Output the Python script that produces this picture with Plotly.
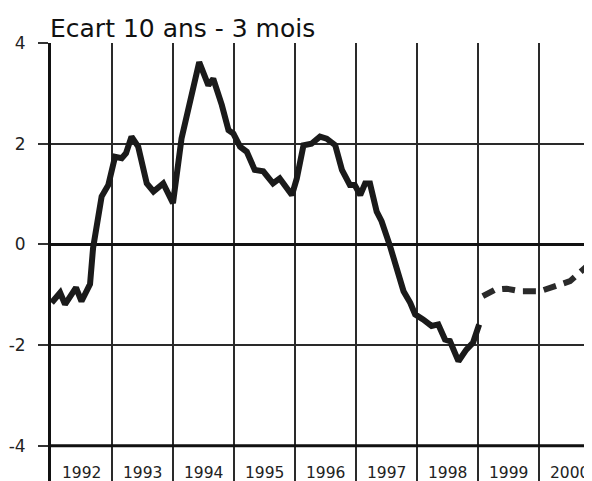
import plotly.graph_objects as go

# Ecart de taux 10 ans - 3 mois (points, en années décimales)
obs_x = [1992.01, 1992.15, 1992.23, 1992.41, 1992.50, 1992.64, 1992.69, 1992.75,
         1992.83, 1992.94, 1993.05, 1993.16, 1993.23, 1993.32, 1993.43, 1993.57,
         1993.68, 1993.84, 1994.00, 1994.14, 1994.31, 1994.43, 1994.58, 1994.66,
         1994.80, 1994.91, 1994.99, 1995.10, 1995.21, 1995.34, 1995.48, 1995.64,
         1995.75, 1995.95, 1996.03, 1996.14, 1996.27, 1996.41, 1996.52, 1996.66,
         1996.77, 1996.90, 1996.98, 1997.07, 1997.15, 1997.23, 1997.34, 1997.42,
         1997.56, 1997.67, 1997.78, 1997.89, 1997.97, 1998.10, 1998.24, 1998.35,
         1998.46, 1998.54, 1998.68, 1998.81, 1998.92, 1999.02]
obs_y = [-1.16, -0.96, -1.19, -0.86, -1.13, -0.79, -0.07, 0.46,
         0.95, 1.18, 1.74, 1.71, 1.81, 2.14, 1.94, 1.21,
         1.05, 1.21, 0.82, 2.10, 2.96, 3.62, 3.16, 3.29,
         2.77, 2.27, 2.20, 1.94, 1.84, 1.48, 1.45, 1.21,
         1.31, 0.98, 1.31, 1.97, 2.00, 2.14, 2.10, 1.97,
         1.48, 1.18, 1.18, 0.98, 1.21, 1.21, 0.65, 0.46,
         -0.04, -0.53, -0.93, -1.16, -1.39, -1.49, -1.62, -1.59,
         -1.89, -1.92, -2.32, -2.09, -1.95, -1.59]

# prévision
prev_x = [1999.08, 1999.28, 1999.47, 1999.69, 2000.02, 2000.29, 2000.51, 2000.78, 2000.92]
prev_y = [-1.03, -0.90, -0.88, -0.93, -0.93, -0.83, -0.73, -0.44, -0.32]

years = [1992, 1993, 1994, 1995, 1996, 1997, 1998, 1999, 2000]
y_ticks = [4, 2, 0, -2, -4]
y_labels = ["4", "2", "0", "-2", "-4"]

fig = go.Figure()

fig.add_trace(go.Scatter(x=obs_x, y=obs_y, mode="lines",
                         line=dict(color="#1a1a1a", width=6), showlegend=False))
fig.add_trace(go.Scatter(x=prev_x, y=prev_y, mode="lines",
                         line=dict(color="#2a2a2a", width=6, dash="13px,8px"),
                         showlegend=False))

# year labels sit in the cells under the -4 line
for yr in years:
    fig.add_annotation(x=yr + 0.5, y=-4.55, text=str(yr), showarrow=False,
                       font=dict(family="DejaVu Sans", size=15.5, color="#222"))

# thick -4 line
fig.add_shape(type="line", xref="paper", x0=0, x1=1, yref="y", y0=-4, y1=-4,
              line=dict(color="#111", width=3), layer="above")

fig.add_annotation(xref="paper", yref="paper", x=0.0, y=1.0, xanchor="left",
                   yanchor="bottom", xshift=-3, yshift=-2, text="Ecart 10 ans - 3 mois",
                   showarrow=False,
                   font=dict(family="DejaVu Sans", size=25, color="#111"))

# page body adds an 8px margin, so the figure is 8px smaller on each side
fig.update_layout(
    width=584, height=473,
    margin=dict(l=43, r=0, t=35, b=0, autoexpand=False),
    plot_bgcolor="white", paper_bgcolor="white",
    xaxis=dict(range=[1992, 2000.87], tickvals=years, showticklabels=False,
               showgrid=True, gridcolor="#2a2a2a", gridwidth=2, zeroline=False,
               automargin=False),
    yaxis=dict(range=[-4.7, 4.0], tickvals=y_ticks, ticktext=y_labels,
               showgrid=True, automargin=False,
               gridcolor="#2a2a2a", gridwidth=2, zeroline=True, zerolinecolor="#111",
               zerolinewidth=3, showline=True, linecolor="#111", linewidth=3,
               ticks="outside", ticklen=10, tickcolor="#333", tickwidth=2,
               ticklabelstandoff=9,
               tickfont=dict(family="DejaVu Sans", size=17, color="#222")),
)

fig.write_html("out.html")
